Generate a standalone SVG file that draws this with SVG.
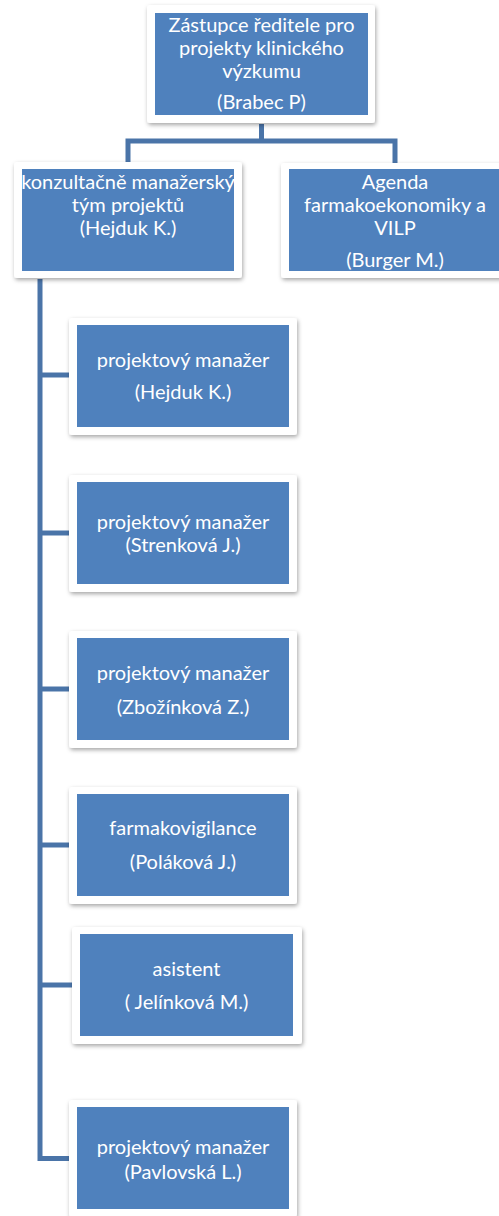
<svg xmlns="http://www.w3.org/2000/svg" width="499" height="1216" viewBox="0 0 499 1216">
<defs>
<filter id="sh" x="-10%" y="-10%" width="130%" height="130%">
<feDropShadow dx="1" dy="2" stdDeviation="2" flood-color="#000" flood-opacity="0.35"/>
</filter>
</defs>
<style>
.frame{fill:#ffffff;filter:url(#sh)}
.box{fill:#4F81BD}
.t{font-family:Lato,"Open Sans","Liberation Sans",sans-serif;font-size:20px;fill:#ffffff;text-anchor:middle}
.c{fill:none;stroke:#4A74A8;stroke-width:5}
</style>
<rect width="499" height="1216" fill="#ffffff"/>
<g id="connectors">
<path class="c" d="M261.5,124 V141"/>
<path class="c" d="M128,163 V141 H395 V163"/>
<path class="c" d="M40,279 V1158.5 H69"/>
<path class="c" d="M40,375 H69"/>
<path class="c" d="M40,533 H69"/>
<path class="c" d="M40,689 H69"/>
<path class="c" d="M40,845 H69"/>
<path class="c" d="M40,985 H73"/>
</g>
<g id="n_top">
<rect class="frame" x="147" y="5" width="228" height="118" rx="3"/>
<rect class="box" x="155" y="13" width="213" height="102"/>
<text class="t" x="261.5" y="32">Zástupce ředitele pro</text>
<text class="t" x="261.5" y="55">projekty klinického</text>
<text class="t" x="261.5" y="78">výzkumu</text>
<text class="t" x="261.5" y="109">(Brabec P)</text>
</g>
<g id="n_konz">
<rect class="frame" x="14" y="162" width="228" height="116" rx="3"/>
<rect class="box" x="22" y="169" width="212" height="102"/>
<text class="t" x="128" y="189">konzultačně manažerský</text>
<text class="t" x="128" y="212">tým projektů</text>
<text class="t" x="128" y="235">(Hejduk K.)</text>
</g>
<g id="n_agenda">
<rect class="frame" x="281" y="163" width="228" height="115" rx="3"/>
<rect class="box" x="289" y="169" width="212" height="102"/>
<text class="t" x="395" y="189">Agenda</text>
<text class="t" x="395" y="212">farmakoekonomiky a</text>
<text class="t" x="395" y="235">VILP</text>
<text class="t" x="395" y="267">(Burger M.)</text>
</g>
<g id="n_pm1">
<rect class="frame" x="69" y="318" width="228" height="117" rx="3"/>
<rect class="box" x="77" y="325" width="212" height="102"/>
<text class="t" x="183" y="367">projektový manažer</text>
<text class="t" x="183" y="399">(Hejduk K.)</text>
</g>
<g id="n_pm2">
<rect class="frame" x="69" y="475" width="228" height="117" rx="3"/>
<rect class="box" x="77" y="482" width="212" height="102"/>
<text class="t" x="183" y="529">projektový manažer</text>
<text class="t" x="183" y="552">(Strenková J.)</text>
</g>
<g id="n_pm3">
<rect class="frame" x="69" y="631" width="228" height="117" rx="3"/>
<rect class="box" x="77" y="638" width="212" height="102"/>
<text class="t" x="183" y="680">projektový manažer</text>
<text class="t" x="183" y="714">(Zbožínková Z.)</text>
</g>
<g id="n_farm">
<rect class="frame" x="69" y="787" width="228" height="117" rx="3"/>
<rect class="box" x="77" y="794" width="212" height="102"/>
<text class="t" x="183" y="835">farmakovigilance</text>
<text class="t" x="183" y="869">(Poláková J.)</text>
</g>
<g id="n_asist">
<rect class="frame" x="72" y="927" width="230" height="117" rx="3"/>
<rect class="box" x="80" y="934" width="213" height="102"/>
<text class="t" x="186.5" y="976">asistent</text>
<text class="t" x="186.5" y="1009">( Jelínková M.)</text>
</g>
<g id="n_pm4">
<rect class="frame" x="69" y="1100" width="228" height="117" rx="3"/>
<rect class="box" x="77" y="1107" width="212" height="102"/>
<text class="t" x="183" y="1154">projektový manažer</text>
<text class="t" x="183" y="1179">(Pavlovská L.)</text>
</g>
</svg>
